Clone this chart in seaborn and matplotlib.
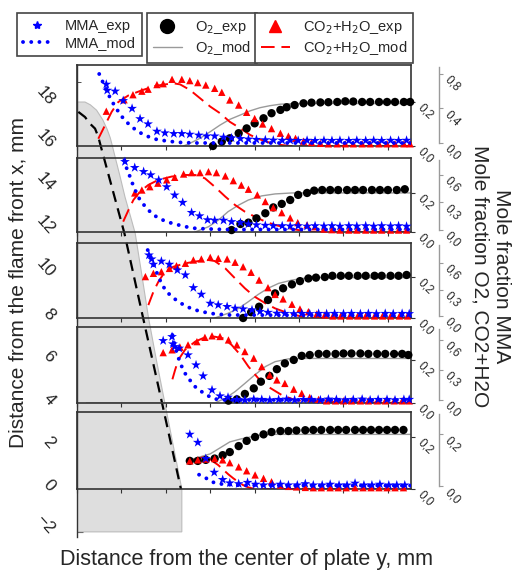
import matplotlib
matplotlib.use("Agg")
import matplotlib.pyplot as plt
import seaborn as sns
import pandas as pd
from matplotlib.lines import Line2D
from matplotlib.ticker import FuncFormatter, MultipleLocator

sns.set_style("white")
plt.rcParams['font.family'] = ['Liberation Sans', 'DejaVu Sans']

# ------------------------------------------------------------------ data
# main axes: flame front and plate (mm)
FLAME_X = [0.15, 0.9, 1.46, 2.03, 2.4, 2.7, 5.33, 7.47, 9.6, 11.7]
FLAME_Y = [17.62, 17.38, 17.07, 16.84, 16.45, 15.98, 11.96, 7.94, 3.97, 0.0]
PLATE_X = [0, 0.9, 1.5, 2.2, 2.9, 3.4, 3.75, 4.0, 4.3, 4.85, 5.4, 6.15, 6.55, 7.3, 8.05, 8.95, 9.9, 10.85, 11.8, 11.8, 0]
PLATE_Y = [18.08, 18.08, 17.95, 17.7, 17.25, 16.8, 16.4, 16.0, 15.5, 14.6, 13.65, 12.55, 11.95, 10.0, 8.0, 6.0, 4.0, 2.0, 0.0, -2.0, -2.0]
Y_TICKS = [-2, 0, 2, 4, 6, 8, 10, 12, 14, 16, 18]
PANEL_XTICKS = [0, 5, 10, 15, 20, 25, 30, 35]
O2_TICKS = [0.0, 0.2]
MMA_TICKS = [[0.0, 0.4, 0.8], [0.0, 0.3, 0.6], [0.0, 0.3, 0.6], [0.0, 0.3, 0.6], [0.0, 0.2]]

# panel 1 (x = 16 mm)
P1_MMA_EXP_X = [3.3, 3.4, 4.3, 5.2, 6.2, 7.1, 8.0, 9.0, 9.9, 10.9, 11.8, 12.7, 13.7, 14.6, 15.5, 16.5, 17.4, 18.4, 19.3, 20.2, 21.2, 22.1, 23.1, 24.0, 24.9, 25.9, 26.8, 27.8, 28.7, 29.6, 30.6, 31.5, 32.5, 33.4, 34.3, 35.3, 36.2, 37.1]
P1_MMA_EXP = [0.68, 0.61, 0.60, 0.49, 0.40, 0.28, 0.22, 0.135, 0.116, 0.108, 0.108, 0.10, 0.09, 0.08, 0.08, 0.066, 0.058, 0.05, 0.044, 0.04, 0.036, 0.032, 0.03, 0.03, 0.028, 0.03, 0.028, 0.03, 0.028, 0.03, 0.028, 0.03, 0.028, 0.03, 0.028, 0.03, 0.028, 0.03]
P1_MMA_MOD_X = [2.5, 2.8, 3.15, 3.5, 3.9, 4.3, 4.8, 5.4, 6.2, 6.9, 7.85, 9.0, 10.3, 11.8, 13.3, 14.8, 37.6]
P1_MMA_MOD = [0.80, 0.73, 0.65, 0.57, 0.49, 0.42, 0.34, 0.26, 0.185, 0.13, 0.08, 0.04, 0.02, 0.005, 0.0, 0.0, 0.0]
P1_O2_EXP_X = [15.3, 16.3, 17.2, 18.2, 19.1, 20.0, 21.0, 21.9, 22.9, 23.6, 24.5, 25.5, 26.4, 27.4, 28.3, 29.3, 30.2, 31.1, 32.1, 33.0, 34.0, 34.9, 35.8, 36.8, 37.5]
P1_O2_EXP = [0.0, 0.02, 0.035, 0.058, 0.08, 0.103, 0.126, 0.149, 0.164, 0.176, 0.186, 0.194, 0.197, 0.198, 0.199, 0.2, 0.203, 0.202, 0.2, 0.2, 0.2, 0.2, 0.2, 0.2, 0.2]
P1_O2_MOD_X = [12.0, 12.7, 13.85, 15.0, 16.1, 17.2, 18.4, 19.5, 20.6, 21.7, 22.9, 24.0, 26.0, 37.6]
P1_O2_MOD = [0.0, 0.012, 0.035, 0.065, 0.095, 0.121, 0.141, 0.16, 0.174, 0.183, 0.19, 0.192, 0.193, 0.193]
P1_CO2_EXP_X = [3.3, 5.3, 6.3, 7.3, 8.0, 9.0, 9.7, 10.7, 11.8, 12.7, 13.6, 14.5, 15.5, 16.3, 17.2, 18.2, 19.1, 20.0, 20.9, 21.9, 22.9, 23.8, 24.6, 25.5, 26.4, 27.4, 28.3, 29.3, 30.2, 31.1, 32.1, 33.0, 34.0, 34.9, 35.8, 36.8, 37.5]
P1_CO2_EXP = [0.158, 0.21, 0.233, 0.249, 0.258, 0.279, 0.283, 0.303, 0.303, 0.297, 0.288, 0.277, 0.262, 0.244, 0.209, 0.186, 0.153, 0.125, 0.1, 0.079, 0.058, 0.045, 0.035, 0.022, 0.016, 0.012, 0.01, 0.01, 0.01, 0.01, 0.01, 0.01, 0.01, 0.01, 0.01, 0.01, 0.01]
P1_CO2_MOD_X = [2.4, 3.15, 3.9, 4.65, 5.8, 7.3, 8.8, 10.3, 11.0, 11.6, 12.7, 13.85, 15.0, 16.1, 17.2, 18.4, 19.5, 20.6, 21.7, 22.9, 24.0, 37.6]
P1_CO2_MOD = [0.033, 0.094, 0.155, 0.2, 0.23, 0.253, 0.273, 0.282, 0.284, 0.28, 0.255, 0.217, 0.179, 0.149, 0.11, 0.08, 0.05, 0.03, 0.015, 0.005, 0.0, 0.0]

# panel 2 (x = 12 mm)
P2_MMA_EXP_X = [5.4, 6.5, 7.5, 8.3, 9.2, 10.1, 11.0, 11.9, 12.9, 13.8, 14.7, 15.5, 16.5, 17.4, 18.4, 19.3, 20.2, 21.2, 22.1, 23.1, 24.0, 24.9, 25.9, 26.8, 27.8, 28.7, 29.6, 30.6, 31.5, 32.5, 33.4, 34.3, 35.3, 36.2, 37.1]
P2_MMA_EXP = [0.745, 0.68, 0.636, 0.60, 0.545, 0.47, 0.38, 0.30, 0.19, 0.153, 0.11, 0.105, 0.105, 0.09, 0.08, 0.065, 0.055, 0.05, 0.045, 0.045, 0.042, 0.045, 0.04, 0.045, 0.042, 0.045, 0.04, 0.045, 0.042, 0.045, 0.04, 0.045, 0.042, 0.045, 0.04]
P2_MMA_MOD_X = [5.33, 5.6, 5.97, 6.23, 6.53, 6.9, 7.28, 7.85, 8.4, 9.16, 10.1, 11.0, 12.2, 13.3, 14.8, 16.7, 37.6]
P2_MMA_MOD = [0.76, 0.67, 0.58, 0.51, 0.44, 0.36, 0.30, 0.24, 0.18, 0.13, 0.09, 0.065, 0.036, 0.018, 0.011, 0.005, 0.005]
P2_O2_EXP_X = [17.4, 18.4, 19.3, 20.2, 21.2, 22.1, 23.05, 24.0, 24.9, 25.9, 26.7, 27.6, 28.5, 29.4, 30.4, 31.3, 32.2, 33.2, 34.1, 35.0, 36.0, 36.9]
P2_O2_EXP = [0.01, 0.041, 0.048, 0.07, 0.096, 0.126, 0.144, 0.164, 0.19, 0.2, 0.212, 0.215, 0.215, 0.215, 0.215, 0.215, 0.215, 0.215, 0.215, 0.215, 0.215, 0.219]
P2_O2_MOD_X = [13.3, 14.8, 15.9, 17.0, 18.2, 19.3, 20.8, 22.3, 24.2, 26.0, 37.6]
P2_O2_MOD = [0.0, 0.027, 0.06, 0.104, 0.138, 0.164, 0.185, 0.195, 0.2, 0.2, 0.2]
P2_CO2_EXP_X = [6.5, 7.3, 8.2, 9.1, 10.1, 11.0, 12.0, 12.9, 13.85, 14.8, 15.7, 16.7, 17.6, 18.5, 19.3, 20.3, 21.2, 22.1, 23.05, 24.0, 24.85, 25.9, 26.8, 27.8, 28.7, 29.6, 30.6, 31.5, 32.5, 33.4, 34.3, 35.3, 36.2, 37.1]
P2_CO2_EXP = [0.2, 0.215, 0.232, 0.25, 0.267, 0.28, 0.297, 0.304, 0.304, 0.309, 0.304, 0.287, 0.263, 0.24, 0.219, 0.19, 0.156, 0.125, 0.099, 0.072, 0.048, 0.036, 0.027, 0.015, 0.012, 0.01, 0.01, 0.01, 0.01, 0.01, 0.01, 0.01, 0.01, 0.01]
P2_CO2_MOD_X = [5.2, 5.8, 6.35, 7.1, 8.03, 9.16, 10.66, 12.2, 13.3, 14.4, 15.5, 16.7, 17.8, 18.9, 20.0, 21.2, 22.3, 23.8, 25.3, 26.5, 37.6]
P2_CO2_MOD = [0.053, 0.113, 0.164, 0.207, 0.241, 0.267, 0.284, 0.292, 0.292, 0.275, 0.232, 0.181, 0.138, 0.104, 0.079, 0.053, 0.036, 0.019, 0.007, 0.0, 0.0]

# panel 3 (x = 8 mm)
P3_MMA_EXP_X = [8.1, 8.4, 8.6, 9.5, 10.4, 11.3, 12.2, 13.1, 14.0, 15.0, 15.9, 16.9, 17.8, 18.7, 19.7, 20.6, 21.5, 22.5, 23.4, 24.4, 25.3, 26.2, 27.2, 28.1, 29.0, 30.0, 30.9, 31.9, 32.8, 33.7, 34.7, 35.6, 36.6, 37.4]
P3_MMA_EXP = [0.69, 0.645, 0.585, 0.62, 0.585, 0.52, 0.464, 0.32, 0.245, 0.143, 0.125, 0.106, 0.087, 0.079, 0.068, 0.05, 0.04, 0.03, 0.028, 0.025, 0.028, 0.025, 0.028, 0.025, 0.028, 0.025, 0.028, 0.025, 0.028, 0.025, 0.028, 0.025, 0.028, 0.025]
P3_MMA_MOD_X = [7.96, 8.2, 8.5, 8.8, 9.16, 9.6, 10.1, 10.66, 11.4, 12.35, 13.3, 14.4, 15.5, 17.0, 37.6]
P3_MMA_MOD = [0.747, 0.68, 0.615, 0.54, 0.445, 0.35, 0.275, 0.22, 0.162, 0.106, 0.068, 0.042, 0.023, 0.011, 0.005]
P3_O2_EXP_X = [18.7, 19.6, 20.5, 21.5, 22.3, 23.2, 24.2, 25.1, 26.05, 26.9, 27.9, 28.75, 29.7, 30.6, 31.6, 32.5, 33.5, 34.3, 35.3, 36.2, 37.1]
P3_O2_EXP = [0.0, 0.028, 0.055, 0.088, 0.12, 0.145, 0.164, 0.18, 0.193, 0.197, 0.2, 0.206, 0.206, 0.206, 0.206, 0.206, 0.206, 0.206, 0.206, 0.206, 0.21]
P3_O2_MOD_X = [15.5, 17.0, 18.2, 19.3, 20.4, 21.5, 22.7, 24.2, 26.05, 28.0, 37.6]
P3_O2_MOD = [0.0, 0.023, 0.047, 0.08, 0.115, 0.145, 0.169, 0.185, 0.197, 0.197, 0.197]
P3_CO2_EXP_X = [7.7, 8.6, 9.5, 10.4, 11.2, 12.2, 13.1, 14.0, 15.0, 15.9, 16.9, 17.8, 18.7, 19.6, 20.5, 21.5, 22.3, 23.2, 24.2, 25.1, 26.05, 27.0, 27.9, 28.8, 29.7, 30.7, 31.6, 32.5, 33.5, 34.4, 35.3, 36.3, 37.2]
P3_CO2_EXP = [0.202, 0.218, 0.226, 0.242, 0.255, 0.267, 0.283, 0.288, 0.296, 0.291, 0.288, 0.272, 0.25, 0.223, 0.185, 0.148, 0.115, 0.093, 0.067, 0.044, 0.031, 0.02, 0.015, 0.01, 0.01, 0.01, 0.01, 0.01, 0.01, 0.01, 0.01, 0.01, 0.01]
P3_CO2_MOD_X = [8.03, 8.6, 9.16, 9.9, 10.85, 12.2, 13.7, 14.8, 15.5, 16.7, 17.8, 18.9, 20.0, 21.2, 22.3, 23.8, 25.3, 26.5, 37.6]
P3_CO2_MOD = [0.063, 0.128, 0.177, 0.226, 0.25, 0.267, 0.278, 0.283, 0.278, 0.242, 0.193, 0.145, 0.104, 0.072, 0.047, 0.023, 0.007, 0.0, 0.0]

# panel 4 (x = 4 mm)
P4_MMA_EXP_X = [9.7, 10.7, 10.8, 11.0, 11.5, 12.5, 13.4, 14.2, 15.2, 16.1, 17.0, 18.0, 18.9, 19.9, 20.8, 21.7, 22.7, 23.6, 24.5, 25.5, 26.4, 27.4, 28.3, 29.2, 30.2, 31.1, 32.1, 33.0, 33.9, 34.9, 35.8, 36.8, 37.4]
P4_MMA_EXP = [0.593, 0.633, 0.56, 0.533, 0.517, 0.45, 0.35, 0.24, 0.1, 0.04, 0.027, 0.005, 0.0, 0.008, 0.005, 0.0, 0.005, 0.008, 0.0, 0.005, 0.005, 0.0, 0.008, 0.005, 0.0, 0.005, 0.008, 0.0, 0.005, 0.005, 0.0, 0.005, 0.005]
P4_MMA_MOD_X = [10.74, 10.96, 11.2, 11.5, 11.8, 12.16, 12.7, 13.3, 14.04, 14.8, 15.5, 16.7, 37.6]
P4_MMA_MOD = [0.65, 0.567, 0.483, 0.40, 0.333, 0.267, 0.2, 0.133, 0.083, 0.04, 0.01, 0.0, 0.0]
P4_O2_EXP_X = [17.05, 18.0, 18.9, 19.9, 20.7, 21.66, 22.5, 23.4, 24.4, 25.3, 26.2, 27.2, 28.1, 29.1, 30.0, 30.9, 31.9, 32.8, 33.8, 34.7, 35.7, 36.6, 37.3]
P4_O2_EXP = [0.011, 0.017, 0.042, 0.068, 0.099, 0.126, 0.157, 0.184, 0.2, 0.219, 0.223, 0.228, 0.228, 0.228, 0.23, 0.23, 0.23, 0.228, 0.228, 0.228, 0.228, 0.228, 0.223]
P4_O2_MOD_X = [1.05, 15.5, 16.7, 17.8, 18.9, 20.0, 21.2, 22.3, 23.8, 25.5, 37.6]
P4_O2_MOD = [0.0, 0.0, 0.022, 0.053, 0.091, 0.13, 0.169, 0.192, 0.205, 0.207, 0.207]
P4_CO2_EXP_X = [9.7, 10.7, 11.6, 12.5, 13.5, 14.4, 15.2, 16.1, 17.05, 18.0, 18.9, 19.9, 20.8, 21.7, 22.5, 23.4, 24.4, 25.3, 26.2, 27.2, 28.1, 29.1, 30.0, 30.9, 31.9, 32.8, 33.8, 34.7, 35.7, 36.6, 37.4]
P4_CO2_EXP = [0.234, 0.247, 0.259, 0.27, 0.285, 0.305, 0.312, 0.309, 0.293, 0.27, 0.239, 0.208, 0.169, 0.13, 0.107, 0.091, 0.064, 0.045, 0.026, 0.017, 0.01, 0.01, 0.01, 0.01, 0.01, 0.01, 0.01, 0.01, 0.01, 0.01, 0.01]
P4_CO2_MOD_X = [10.74, 11.04, 11.4, 12.16, 13.3, 14.4, 15.5, 16.5, 17.4, 18.4, 19.3, 20.4, 21.5, 23.05, 24.5, 26.05, 37.6]
P4_CO2_MOD = [0.11, 0.153, 0.2, 0.247, 0.285, 0.305, 0.308, 0.3, 0.27, 0.223, 0.169, 0.115, 0.076, 0.037, 0.014, 0.006, 0.0]

# panel 5 (x = 0 mm)
P5_MMA_EXP_X = [12.7, 13.6, 14.5, 15.45, 16.4, 17.2, 18.2, 19.2, 20.1, 21.0, 22.0, 22.9, 23.8, 24.8, 25.7, 26.6, 27.6, 28.5, 29.5, 30.4, 31.3, 32.3, 33.2, 34.1, 35.1, 36.0, 36.9]
P5_MMA_EXP = [0.2, 0.169, 0.107, 0.054, 0.026, 0.013, 0.01, 0.015, 0.008, 0.005, 0.005, 0.008, 0.005, 0.005, 0.01, 0.005, 0.005, 0.008, 0.005, 0.005, 0.012, 0.005, 0.005, 0.008, 0.005, 0.005, 0.005]
P5_MMA_MOD_X = [13.74, 14.4, 15.05, 15.7, 16.5, 17.4, 18.5, 37.6]
P5_MMA_MOD = [0.045, 0.035, 0.019, 0.012, 0.008, 0.006, 0.004, 0.003]
P5_O2_EXP_X = [12.7, 13.6, 14.5, 15.5, 16.4, 17.2, 18.2, 19.1, 20.05, 21.0, 21.9, 22.9, 23.8, 24.7, 25.7, 26.6, 27.5, 28.5, 29.4, 30.3, 31.3, 32.2, 33.1, 34.0, 34.9, 35.8, 36.75]
P5_O2_EXP = [0.108, 0.108, 0.112, 0.117, 0.13, 0.142, 0.165, 0.185, 0.2, 0.21, 0.219, 0.223, 0.223, 0.225, 0.226, 0.227, 0.227, 0.227, 0.227, 0.227, 0.227, 0.227, 0.227, 0.227, 0.227, 0.227, 0.227]
P5_O2_MOD_X = [12.7, 13.8, 15.0, 16.1, 17.2, 18.4, 19.5, 20.6, 22.0, 37.6]
P5_O2_MOD = [0.112, 0.123, 0.135, 0.158, 0.181, 0.192, 0.2, 0.207, 0.21, 0.21]
P5_CO2_EXP_X = [12.7, 13.6, 14.5, 15.5, 16.4, 17.2, 18.2, 19.1, 20.05, 21.0, 21.9, 22.9, 23.8, 24.7, 25.7, 26.6, 27.5, 28.5, 29.4, 30.3, 31.3, 32.2, 33.1, 34.0, 34.9, 35.8, 36.75]
P5_CO2_EXP = [0.108, 0.112, 0.115, 0.117, 0.112, 0.101, 0.085, 0.07, 0.054, 0.041, 0.028, 0.015, 0.01, 0.008, 0.006, 0.005, 0.005, 0.005, 0.005, 0.005, 0.005, 0.005, 0.005, 0.005, 0.005, 0.005, 0.005]
P5_CO2_MOD_X = [12.73, 13.66, 14.4, 14.8, 15.35, 15.9, 16.5, 17.05, 17.6, 18.2, 18.7, 19.3, 20.0, 37.6]
P5_CO2_MOD = [0.108, 0.117, 0.124, 0.12, 0.105, 0.092, 0.073, 0.056, 0.041, 0.026, 0.015, 0.006, 0.0, 0.0]

PANELS = [
    (P1_MMA_EXP_X, P1_MMA_EXP, P1_MMA_MOD_X, P1_MMA_MOD, P1_O2_EXP_X, P1_O2_EXP, P1_O2_MOD_X, P1_O2_MOD, P1_CO2_EXP_X, P1_CO2_EXP, P1_CO2_MOD_X, P1_CO2_MOD),
    (P2_MMA_EXP_X, P2_MMA_EXP, P2_MMA_MOD_X, P2_MMA_MOD, P2_O2_EXP_X, P2_O2_EXP, P2_O2_MOD_X, P2_O2_MOD, P2_CO2_EXP_X, P2_CO2_EXP, P2_CO2_MOD_X, P2_CO2_MOD),
    (P3_MMA_EXP_X, P3_MMA_EXP, P3_MMA_MOD_X, P3_MMA_MOD, P3_O2_EXP_X, P3_O2_EXP, P3_O2_MOD_X, P3_O2_MOD, P3_CO2_EXP_X, P3_CO2_EXP, P3_CO2_MOD_X, P3_CO2_MOD),
    (P4_MMA_EXP_X, P4_MMA_EXP, P4_MMA_MOD_X, P4_MMA_MOD, P4_O2_EXP_X, P4_O2_EXP, P4_O2_MOD_X, P4_O2_MOD, P4_CO2_EXP_X, P4_CO2_EXP, P4_CO2_MOD_X, P4_CO2_MOD),
    (P5_MMA_EXP_X, P5_MMA_EXP, P5_MMA_MOD_X, P5_MMA_MOD, P5_O2_EXP_X, P5_O2_EXP, P5_O2_MOD_X, P5_O2_MOD, P5_CO2_EXP_X, P5_CO2_EXP, P5_CO2_MOD_X, P5_CO2_MOD),
]

# ------------------------------------------------------------------ layout
W, H = 513, 572
X0, X1 = 77, 411                      # pixel span shared by all axes
PANEL_PX = [(65, 146), (158, 232), (243, 318), (327, 403), (412, 489)]
INNER_YLIM = [(0, 0.368), (0, 0.379), (0, 0.366), (0, 0.353), (0, 0.296)]
OUTER_YLIM = [(-0.035, 0.904), (-0.022, 0.785), (-0.023, 0.827), (-0.03, 0.73), (-0.01, 0.286)]
XLIM = (0, 37.6)

DARK = '#333333'
BLUE = '#0000ff'
RED = '#ff0000'
GREY = '#9a9a9a'
MMA_DOT = dict(color=BLUE, lw=2.8, linestyle=(0, (0.01, 2.1)), dash_capstyle='round')
CO2_DASH = dict(color=RED, lw=1.4, linestyle=(0, (7, 3.5)))


def fx(px):
    return px / W


def fy(py):
    return 1 - py / H


comma = FuncFormatter(lambda v, p: f"{v:.1f}".replace('.', ','))


def style_right_labels(axis_obj):
    for lab in axis_obj.get_yticklabels():
        lab.set_rotation(-45)
        lab.set_rotation_mode('anchor')
        lab.set_ha('left')
        lab.set_va('top')


fig = plt.figure(figsize=(W / 100, H / 100), dpi=100)

# ---------------- main axes (flame front / plate)
ax = fig.add_axes([fx(X0), fy(537), fx(X1) - fx(X0), fy(65) - fy(537)])
ax.patch.set_visible(False)
ax.set_xlim(*XLIM)
ax.set_ylim(-2.24, 19.81)
ax.fill(PLATE_X, PLATE_Y, facecolor='#dedede', edgecolor='#bcbcbc', lw=0.8, zorder=1)
sns.lineplot(x=FLAME_X, y=FLAME_Y, sort=False, estimator=None, ax=ax,
             color='black', lw=1.6, linestyle=(0, (5, 3)), zorder=3)
for s in ['top', 'right', 'bottom']:
    ax.spines[s].set_visible(False)
ax.spines['left'].set_color(DARK)
ax.spines['left'].set_linewidth(1.0)
ax.set_xticks([])
ax.set_yticks(Y_TICKS)
ax.yaxis.set_minor_locator(MultipleLocator(1))
ax.tick_params(axis='y', which='major', direction='in', length=4, pad=18,
               labelsize=12.5, left=True, color=DARK)
ax.tick_params(axis='y', which='minor', direction='in', length=3, left=True, color=DARK)
for lab in ax.get_yticklabels():
    lab.set_rotation(-48)
    lab.set_rotation_mode('anchor')
    lab.set_ha('right')
    lab.set_va('center')
ax.set_xlabel('')
ax.set_ylabel('')

# ---------------- profile panels
for i, pdat in enumerate(PANELS):
    (mx, my, mmx, mmy, ox, oy, omx, omy, cx, cy, cmx, cmy) = pdat
    top, bot = PANEL_PX[i]
    a = fig.add_axes([fx(X0), fy(bot), fx(X1) - fx(X0), fy(top) - fy(bot)])
    a.patch.set_visible(False)
    sns.lineplot(x=omx, y=omy, sort=False, estimator=None, ax=a, color=GREY, lw=1.0, zorder=2)
    sns.lineplot(x=cmx, y=cmy, sort=False, estimator=None, ax=a, zorder=2, **CO2_DASH)
    sns.scatterplot(x=ox, y=oy, ax=a, marker='o', s=36, color='black', edgecolor='none',
                    linewidth=0, zorder=3, clip_on=False, legend=False)
    sns.scatterplot(x=cx, y=cy, ax=a, marker='^', s=28, color=RED, edgecolor='none',
                    linewidth=0, zorder=4, clip_on=False, legend=False)
    a.set_xlim(*XLIM)
    a.set_ylim(*INNER_YLIM[i])
    a.set_xlabel('')
    a.set_ylabel('')

    b = a.twinx()
    b.patch.set_visible(False)
    sns.lineplot(x=mmx, y=mmy, sort=False, estimator=None, ax=b, zorder=5, **MMA_DOT)
    sns.scatterplot(x=mx, y=my, ax=b, marker='*', s=55, color=BLUE, edgecolor='none',
                    linewidth=0, zorder=6, clip_on=False, legend=False)
    b.set_xlim(*XLIM)
    b.set_ylim(*OUTER_YLIM[i])
    b.set_xlabel('')
    b.set_ylabel('')
    for s in ['top', 'bottom', 'left']:
        b.spines[s].set_visible(False)
    b.spines['right'].set_position(('outward', 20))
    b.spines['right'].set_color(GREY)
    b.spines['right'].set_linewidth(1.0)
    b.spines['right'].set_bounds(0, OUTER_YLIM[i][1] * 0.97)
    b.set_yticks(MMA_TICKS[i])
    b.yaxis.set_major_formatter(comma)
    b.tick_params(axis='y', direction='out', length=3, pad=6, labelsize=8.5,
                  right=True, left=False, labelleft=False, labelright=True, color=GREY)
    style_right_labels(b)

    # inner (O2, CO2+H2O) axis: ticks on the right spine of the box
    for s in a.spines.values():
        s.set_color(DARK)
        s.set_linewidth(1.2)
    a.set_xticks(PANEL_XTICKS)
    a.tick_params(axis='x', direction='out', length=3, color=DARK, labelbottom=False, bottom=True)
    a.set_yticks(O2_TICKS)
    a.yaxis.set_major_formatter(comma)
    a.yaxis.set_ticks_position('right')
    a.yaxis.set_label_position('right')
    a.tick_params(axis='y', direction='out', length=3, pad=6, labelsize=8.5,
                  right=True, left=False, labelleft=False, labelright=True, color=DARK)
    style_right_labels(a)

# ---------------- axis titles
fig.text(fx(18), fy(283), 'Distance from the flame front x, mm', rotation=90,
         ha='center', va='center', fontsize=15)
fig.text(fx(247), fy(559), 'Distance from the center of plate y, mm',
         ha='center', va='center', fontsize=15.5)
fig.text(fx(501), fy(276), 'Mole fraction MMA', rotation=270,
         ha='center', va='center', fontsize=15)
fig.text(fx(480), fy(276), 'Mole fraction O2, CO2+H2O', rotation=270,
         ha='center', va='center', fontsize=15)

# ---------------- legends
leg_kw = dict(frameon=True, fancybox=False, edgecolor='#444444', fontsize=10.5,
              handlelength=2.0, handletextpad=0.9, labelspacing=0.25,
              borderpad=0.4, borderaxespad=0, loc='upper left', framealpha=1)
h1 = [Line2D([], [], ls='none', marker='*', color=BLUE, ms=6),
      Line2D([], [], **MMA_DOT)]
h2 = [Line2D([], [], ls='none', marker='o', color='black', ms=10),
      Line2D([], [], color=GREY, lw=1.0)]
h3 = [Line2D([], [], ls='none', marker='^', color=RED, ms=8),
      Line2D([], [], **CO2_DASH)]
l1 = fig.legend(h1, ['MMA_exp', 'MMA_mod'], bbox_to_anchor=(fx(17), fy(13)), **leg_kw)
l2 = fig.legend(h2, ['O$_2$_exp', 'O$_2$_mod'], bbox_to_anchor=(fx(147), fy(13)), **leg_kw)
l3 = fig.legend(h3, ['CO$_2$+H$_2$O_exp', 'CO$_2$+H$_2$O_mod'], bbox_to_anchor=(fx(255), fy(13)), **leg_kw)
for lg in (l1, l2, l3):
    lg.get_frame().set_linewidth(1.2)

fig.savefig('out.png', dpi=100)
